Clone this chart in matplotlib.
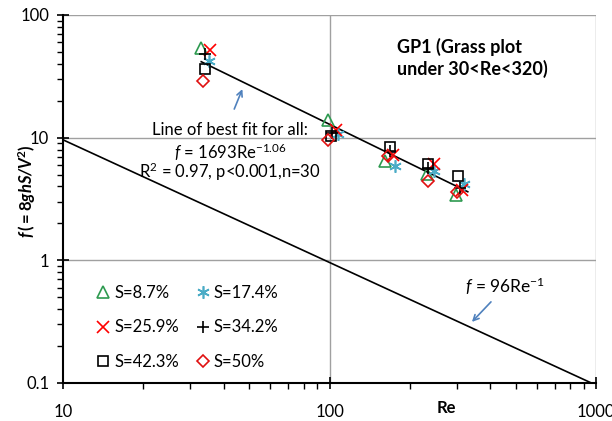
import numpy as np
import matplotlib
matplotlib.use("Agg")
from matplotlib import pyplot as plt

plt.rcParams["font.family"] = ["Lato", "DejaVu Sans"]
plt.rcParams["mathtext.fontset"] = "custom"
plt.rcParams["mathtext.rm"] = "Lato"
plt.rcParams["mathtext.it"] = "Lato:italic"
plt.rcParams["mathtext.bf"] = "Lato:bold"
plt.rcParams["mathtext.bfit"] = "Lato:bold:italic"

# measured friction factor by slope
re_87 = [32.9, 99, 161.5, 231.6, 298]
f_87 = [53.4, 14.0, 6.47, 5.04, 3.41]
re_174 = [35.4, 107.9, 176, 246.6, 320]
f_174 = [42.2, 10.7, 5.89, 5.30, 4.17]
re_259 = [35.6, 105.7, 173.4, 246.6, 313]
f_259 = [52.0, 11.6, 7.26, 6.08, 3.72]
re_342 = [34.1, 101.9, 168.7, 235, 309]
f_342 = [47.9, 11.0, 7.73, 5.64, 3.87]
re_423 = [34.1, 101.4, 168.7, 235, 304]
f_423 = [36.6, 10.4, 8.34, 6.08, 4.89]
re_50 = [33.4, 99, 166.3, 235, 300]
f_50 = [28.9, 9.57, 7.1, 4.45, 3.63]

fit_a, fit_b = 1693.0, -1.06
lam_a, lam_b = 96.0, -1.0

fig = plt.figure(figsize=(6.12, 4.21), dpi=100)
ax = fig.add_axes([0.103, 0.0903, 0.871, 0.8741])
ax.set_xscale("log")
ax.set_yscale("log")
ax.set_xlim(10, 1000)
ax.set_ylim(0.1, 100)

for v in [100, 1000]:
    ax.axvline(v, color="#a0a0a0", lw=1.0, zorder=0)
for v in [1, 10, 100]:
    ax.axhline(v, color="#a0a0a0", lw=1.0, zorder=0)

# laminar line and best fit
re_lam = np.array([10.0, 1000.0])
ax.plot(re_lam, lam_a * re_lam ** lam_b, color="black", lw=1.2, zorder=2)
re_fit = np.array([33.0, 330.0])
ax.plot(re_fit, fit_a * re_fit ** fit_b, color="black", lw=1.2, zorder=2)

ms = 8
h1, = ax.plot(re_87, f_87, "^", ls="none", mfc="none", mec="#2e9a50", mew=1.2, ms=ms + 1, label="S=8.7%")
h2, = ax.plot(re_174, f_174, marker=(6, 2, 0), ls="none", color="#4bacc6", mew=1.2, ms=ms + 1, label="S=17.4%")
h3, = ax.plot(re_259, f_259, "x", ls="none", color="#ff0000", mew=1.2, ms=ms, label="S=25.9%")
h4, = ax.plot(re_342, f_342, "+", ls="none", color="black", mew=1.2, ms=ms, label="S=34.2%")
h5, = ax.plot(re_423, f_423, "s", ls="none", mfc="none", mec="black", mew=1.2, ms=ms - 1, label="S=42.3%")
h6, = ax.plot(re_50, f_50, "D", ls="none", mfc="none", mec="#e01010", mew=1.2, ms=ms - 2, label="S=50%")

ax.legend(handles=[h1, h3, h5, h2, h4, h6], ncol=2, loc="lower left",
          bbox_to_anchor=(0.03, -0.005), frameon=False, fontsize=12,
          labelspacing=1.1, handletextpad=0.1, columnspacing=0.9,
          handlelength=1.1)

ax.annotate("", xy=(47.5, 26.1), xytext=(43.5, 16.3),
            arrowprops=dict(arrowstyle="->", color="#4f81bd", lw=1.2))
ax.annotate("", xy=(336.5, 0.303), xytext=(410, 0.476),
            arrowprops=dict(arrowstyle="->", color="#4f81bd", lw=1.2))

ax.text(42.4, 11.6, "Line of best fit for all:", fontsize=12, ha="center", va="center")
ax.text(42.4, 7.64, r"$\mathit{f}$ = 1693Re$^{-1.06}$", fontsize=12, ha="center", va="center")
ax.text(42.4, 5.25, "R$^{2}$ = 0.97, p<0.001,n=30", fontsize=12, ha="center", va="center")
ax.text(455, 0.61, r"$\mathit{f}$ = 96Re$^{-1}$", fontsize=12.5, ha="center", va="center")
ax.text(0.627, 0.883, "GP1 (Grass plot\nunder 30<Re<320)", transform=ax.transAxes,
        fontsize=13, fontweight="bold", ha="left", va="center", linespacing=1.25)

ax.set_xticks([10, 100, 1000])
ax.set_xticklabels(["10", "100", "1000"])
ax.set_yticks([0.1, 1, 10, 100])
ax.set_yticklabels(["0.1", "1", "10", "100"])
ax.tick_params(which="major", direction="inout", length=8, width=1.2, labelsize=12)
ax.tick_params(axis="x", which="major", pad=11)
ax.tick_params(axis="y", which="major", pad=6)
ax.tick_params(which="minor", direction="out", length=4, width=1.0, labelbottom=False, labelleft=False)

for side in ["top", "right"]:
    ax.spines[side].set_visible(False)
for side in ["left", "bottom"]:
    ax.spines[side].set_linewidth(1.5)

fig.text(0.730, 0.031, "Re", fontsize=12, fontweight="bold", ha="center", va="center")
fig.text(0.044, 0.545, r"$\mathbfit{f}\,\mathbf{(=8}\mathbfit{ghS/V}^{\mathbf{2}}\mathbf{)}$",
         fontsize=12, rotation=90, ha="center", va="center")

fig.savefig("out.png", dpi=100)
